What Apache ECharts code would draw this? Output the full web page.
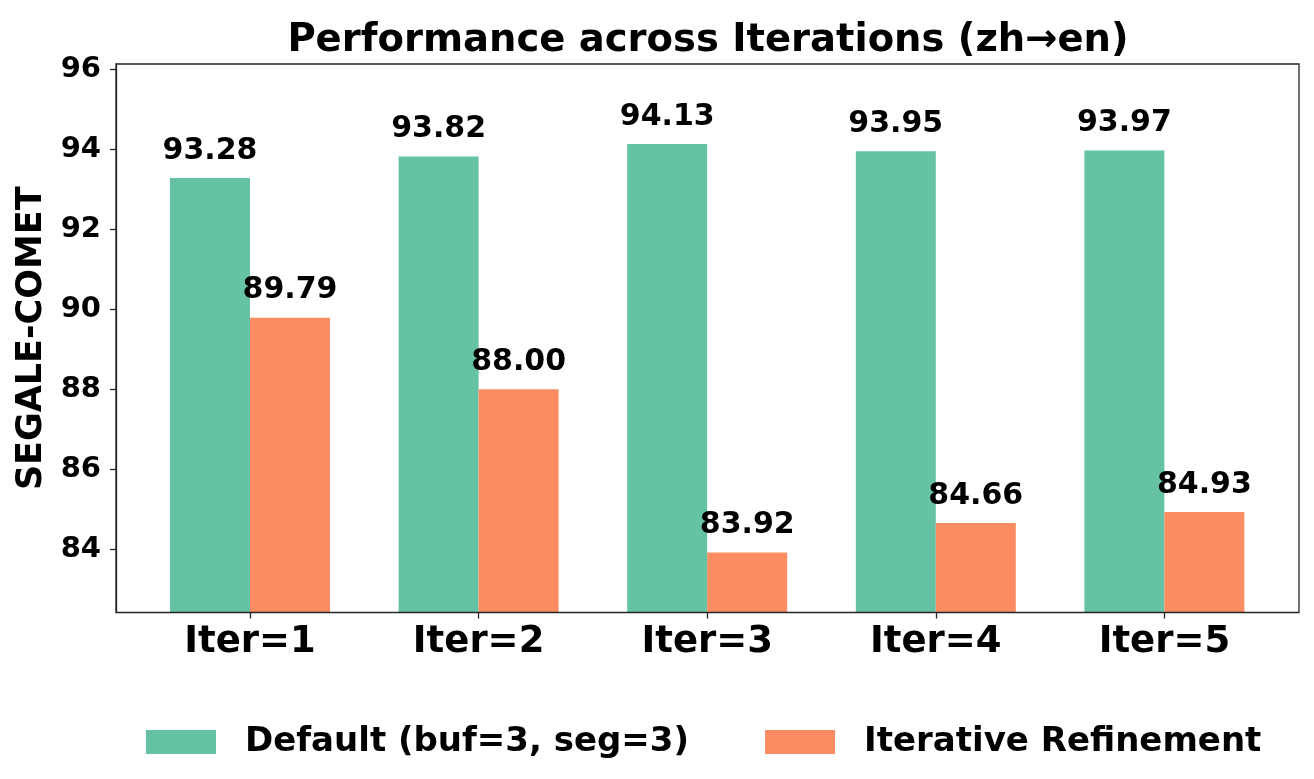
<!DOCTYPE html>
<html>
<head>
<meta charset="utf-8">
<script src="https://cdn.jsdelivr.net/npm/echarts@6/dist/echarts.min.js"></script>
<style>
html,body{margin:0;padding:0;background:#fff;}
#chart{width:1314px;height:779px;}
</style>
</head>
<body>
<div id="chart"></div>
<script>
const categories = ['Iter=1', 'Iter=2', 'Iter=3', 'Iter=4', 'Iter=5'];
const defaultValues = [93.28, 93.82, 94.13, 93.95, 93.97];
const refineValues = [89.79, 88.00, 83.92, 84.66, 84.93];
const yTicks = [84, 86, 88, 90, 92, 94, 96];
const seriesNames = ['Default (buf=3, seg=3)', 'Iterative Refinement'];
const yMin = 82.42, yMax = 96.13;

const FONT = 'DejaVu Sans';
const AX = '#262626';
const chart = echarts.init(document.getElementById('chart'), null, {renderer: 'canvas'});

const labelCfg = {
  show: true, position: 'top', distance: 12,
  formatter: p => p.value.toFixed(2),
  fontFamily: FONT, fontWeight: 'bold', fontSize: 30, color: '#000'
};

chart.setOption({
  animation: false,
  backgroundColor: '#fff',
  title: {
    text: 'Performance across Iterations (zh→en)',
    left: 708, top: 21, textAlign: 'center', padding: 0,
    textStyle: {fontFamily: FONT, fontWeight: 'bold', fontSize: 38.5, color: '#000'}
  },
  legend: {
    data: seriesNames,
    left: 146, top: 725, padding: 0,
    itemWidth: 70, itemHeight: 24, itemGap: 76,
    icon: 'rect',
    textStyle: {fontFamily: FONT, fontWeight: 'bold', fontSize: 34, color: '#000', padding: [0, 0, 0, 24]}
  },
  grid: [
    {left: 116, top: 64, width: 1183, height: 548.5, show: true, borderColor: AX, borderWidth: 1.3, z: 10, containLabel: false},
    {left: 135.7, top: 64, width: 1143, height: 548.5, containLabel: false}
  ],
  xAxis: [
    {gridIndex: 0, type: 'value', min: 0, max: 1, show: false},
    {
      gridIndex: 1, type: 'category', data: categories,
      axisLine: {show: false},
      axisTick: {show: true, alignWithLabel: true, length: 6, lineStyle: {color: AX, width: 1.3}},
      axisLabel: {margin: 11, fontFamily: FONT, fontWeight: 'bold', fontSize: 37, color: '#000'},
      splitLine: {show: false}
    }
  ],
  yAxis: [
    {
      gridIndex: 0, type: 'value', min: yMin, max: yMax,
      name: 'SEGALE-COMET', nameLocation: 'middle', nameGap: 64,
      nameTextStyle: {fontFamily: FONT, fontWeight: 'bold', fontSize: 35, color: '#000'},
      axisLine: {show: true, lineStyle: {color: AX, width: 1.3}},
      axisTick: {show: true, length: 6, lineStyle: {color: AX, width: 1.3}, customValues: yTicks},
      axisLabel: {margin: 15, fontFamily: FONT, fontWeight: 'bold', fontSize: 29, color: '#000', customValues: yTicks},
      splitLine: {show: false}
    },
    {gridIndex: 1, type: 'value', min: yMin, max: yMax, show: false, splitLine: {show: false}}
  ],
  series: [
    {
      name: seriesNames[0], type: 'bar', xAxisIndex: 1, yAxisIndex: 1,
      data: defaultValues, barWidth: 80, barGap: '0%',
      itemStyle: {color: '#66c2a5'}, label: labelCfg
    },
    {
      name: seriesNames[1], type: 'bar', xAxisIndex: 1, yAxisIndex: 1,
      data: refineValues, barWidth: 80, barGap: '0%',
      itemStyle: {color: '#fc8d62'}, label: labelCfg
    }
  ]
});
</script>
</body>
</html>
